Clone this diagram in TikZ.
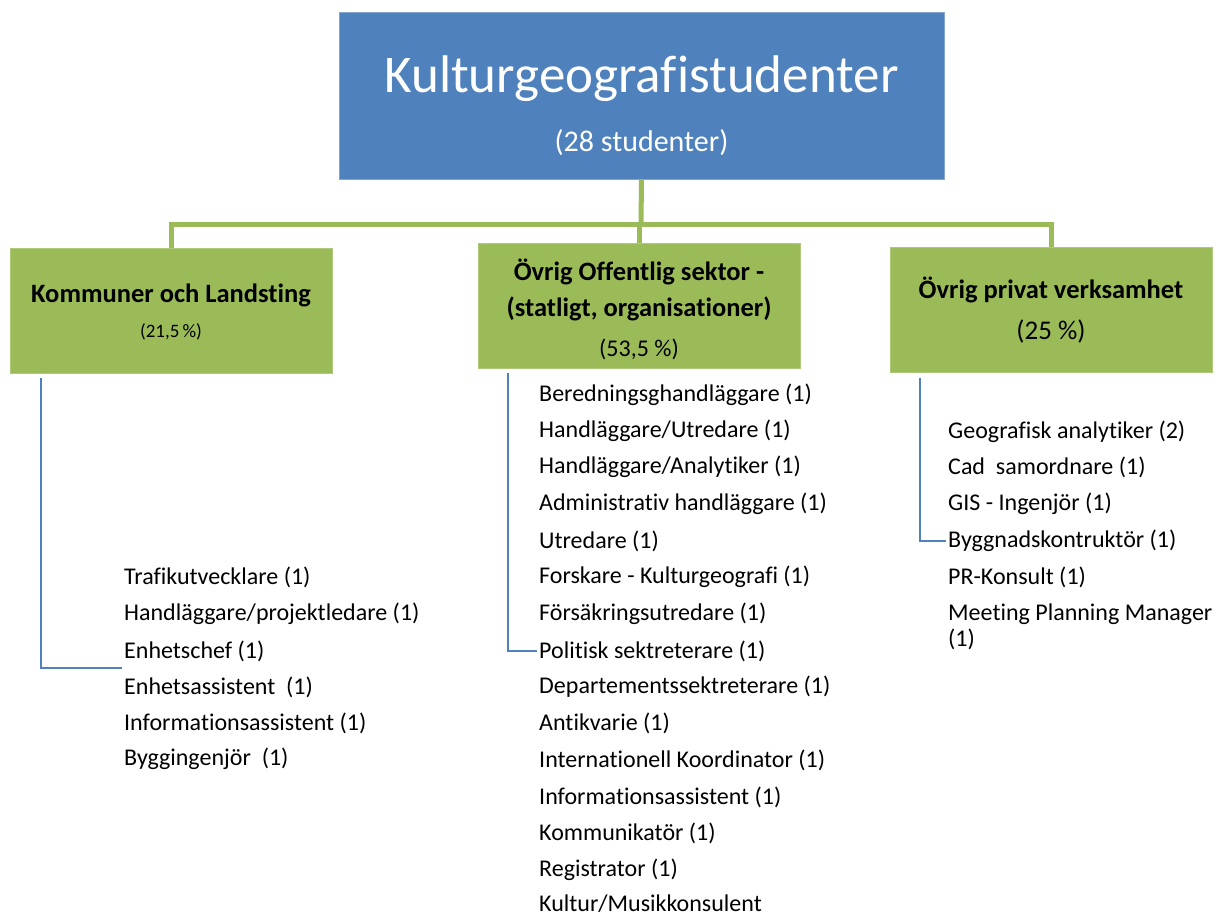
\documentclass[tikz,border=0pt]{standalone}
\usepackage{fontspec}
\setmainfont{Carlito}[Ligatures=CommonOff]
\definecolor{boxblue}{HTML}{4F81BD}
\definecolor{boxgreen}{HTML}{9BBB59}
\begin{document}
\begin{tikzpicture}[x=1pt,y=-1pt,
  topbox/.style={fill=boxblue,draw=boxblue!70!white,line width=1pt,minimum width=605pt,minimum height=167pt,inner sep=0pt},
  catbox/.style={fill=boxgreen,draw=boxgreen!80!white,line width=1pt,minimum width=322pt,minimum height=125pt,inner sep=0pt},
  toptext/.style={anchor=base,inner sep=0pt,text=white},
  head/.style={anchor=base,inner sep=0pt,font=\fontsize{26.5}{30}\selectfont\bfseries},
  pct/.style={anchor=base,inner sep=0pt},
  item/.style={anchor=west,inner sep=2pt,font=\fontsize{24}{28}\selectfont},
  greenline/.style={draw=boxgreen,line width=5pt},
  blueline/.style={draw=boxblue,line width=1.6pt}]
\useasboundingbox (0,0) rectangle (1216,918);
% top box
\node[topbox] (top) at (641.5,95.5) {};
\node[toptext,font=\fontsize{53}{60}\selectfont] (title) at (641.5,92) {Kulturgeografistudenter};
\node[toptext,font=\fontsize{30}{34}\selectfont] (sub) at (641.5,151) {(28 studenter)};
% category boxes
\node[catbox] (kl) at (171,310.5) {};
\node[catbox] (ps) at (639,305.5) {};
\node[catbox] (os) at (1051,309.5) {};
\node[head] (klt) at (171,302) {Kommuner och Landsting};
\node[pct,font=\fontsize{19}{22}\selectfont] (klp) at (171,337) {(21,5\,\%)};
\node[head] (pst1) at (639,280) {Övrig Offentlig sektor -};
\node[head] (pst2) at (639,316) {(statligt, organisationer)};
\node[pct,font=\fontsize{24}{28}\selectfont] (psp) at (639,356) {(53,5 \%)};
\node[head] (ost) at (1051,298) {Övrig privat verksamhet};
\node[pct,font=\fontsize{27}{30}\selectfont] (osp) at (1051,339) {(25 \%)};
% green connectors
\coordinate (hub) at (641,224);
\draw[greenline] (top.south) -- (hub);
\draw[greenline] (kl.north) |- (hub) -| (ps.north);
\draw[greenline] (hub) -| (os.north);
% left list
\node[item] (l1) at (122,577) {Trafikutvecklare (1)};
\node[item] (l2) at (122,614) {Handläggare/projektledare (1)};
\node[item] (l3) at (122,651) {Enhetschef (1)};
\node[item] (l4) at (122,687) {Enhetsassistent\ \ (1)};
\node[item] (l5) at (122,723) {Informationsassistent (1)};
\node[item] (l6) at (122,759) {Byggingenjör\ \ (1)};
% middle list
\node[item] (m1) at (537,395) {Beredningsghandläggare (1)};
\node[item] (m2) at (537,431) {Handläggare/Utredare (1)};
\node[item] (m3) at (537,467) {Handläggare/Analytiker (1)};
\node[item] (m4) at (537,504) {Administrativ handläggare (1)};
\node[item] (m5) at (537,541) {Utredare (1)};
\node[item] (m6) at (537,577) {Forskare - Kulturgeografi (1)};
\node[item] (m7) at (537,614) {Försäkringsutredare (1)};
\node[item] (m8) at (537,651) {Politisk sektreterare (1)};
\node[item] (m9) at (537,687) {Departementssektreterare (1)};
\node[item] (m10) at (537,723) {Antikvarie (1)};
\node[item] (m11) at (537,760) {Internationell Koordinator (1)};
\node[item] (m12) at (537,797) {Informationsassistent (1)};
\node[item] (m13) at (537,833) {Kommunikatör (1)};
\node[item] (m14) at (537,870) {Registrator (1)};
\node[item] (m15) at (537,904) {Kultur/Musikkonsulent};
% right list
\node[item] (r1) at (946,432) {Geografisk analytiker (2)};
\node[item] (r2) at (946,467) {Cad\ \ samordnare (1)};
\node[item] (r3) at (946,504) {GIS - Ingenjör (1)};
\node[item] (r4) at (946,541) {Byggnadskontruktör (1)};
\node[item] (r5) at (946,577) {PR-Konsult (1)};
\node[item,align=left,font=\fontsize{24}{26}\selectfont] (r6) at (946,627) {Meeting Planning Manager\\(1)};
% blue connectors
\coordinate (lstart) at (41,378);
\coordinate (mstart) at (508,373);
\coordinate (rstart) at (920,378);
\draw[blueline] (lstart) |- ([yshift=-17pt]l3.west);
\draw[blueline] (mstart) |- (m8.west);
\draw[blueline] (rstart) |- (r4.west);
\end{tikzpicture}
\end{document}
